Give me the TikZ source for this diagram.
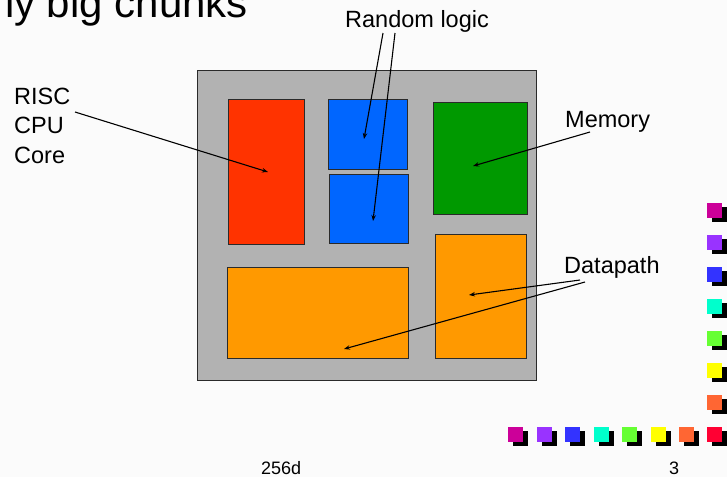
\documentclass[tikz,border=0pt]{standalone}
\usepackage{fontspec}
\setmainfont{Liberation Sans}
\usetikzlibrary{arrows.meta}
\definecolor{pagebg}{HTML}{FBFBFB}
\definecolor{diefill}{HTML}{B2B2B2}
\definecolor{edge}{HTML}{2A2A2A}
\definecolor{cpured}{HTML}{FF3300}
\definecolor{logicblue}{HTML}{0066FF}
\definecolor{memgreen}{HTML}{009900}
\definecolor{dpathorange}{HTML}{FF9900}
\definecolor{sqmagenta}{HTML}{CC0099}
\definecolor{sqpurple}{HTML}{9933FF}
\definecolor{sqblue}{HTML}{3333FF}
\definecolor{sqcyan}{HTML}{00FFCC}
\definecolor{sqgreen}{HTML}{66FF33}
\definecolor{sqyellow}{HTML}{FFFF00}
\definecolor{sqorange}{HTML}{FF6633}
\definecolor{sqred}{HTML}{FF0033}
\tikzset{
  block/.style={draw=edge, line width=1pt, inner sep=0pt, anchor=north west},
  label/.style={inner sep=0pt, anchor=base west, font=\fontsize{23.5}{29.5}\selectfont, align=left},
  pointer/.style={draw=black, line width=1.1pt, -{Stealth[length=6pt,width=4.5pt]}},
  bullet/.style={inner sep=0pt, minimum size=15pt, anchor=north west},
  footer/.style={inner sep=0pt, anchor=base west, font=\fontsize{18}{20}\selectfont},
}
% draws one decorative square with its black drop shadow
\newcommand\shadowsq[3]{%
  \fill[black] (#1+5,#2+4) rectangle ++(15,15);
  \node[bullet, fill=#3] at (#1,#2) {};
}
\begin{document}
\begin{tikzpicture}[x=1pt,y=-1pt]
  \useasboundingbox (0,0) rectangle (727,477);
  \clip (0,0) rectangle (727,477);
  \fill[pagebg] (0,0) rectangle (727,477);

  % slide title, running off the top left edge
  \node[inner sep=0pt, anchor=base east, font=\fontsize{42}{48}\selectfont] (title) at (248,17) {Fairly big chunks};

  % die outline and functional blocks
  \node[block, fill=diefill, minimum width=339pt, minimum height=310pt] (die) at (197,70) {};
  \node[block, fill=cpured, minimum width=76pt, minimum height=145pt] (cpu) at (228,99) {};
  \node[block, fill=logicblue, minimum width=79pt, minimum height=70pt] (logicA) at (328,99) {};
  \node[block, fill=logicblue, minimum width=79pt, minimum height=69pt] (logicB) at (329,174) {};
  \node[block, fill=memgreen, minimum width=94pt, minimum height=112pt] (mem) at (433,102) {};
  \node[block, fill=dpathorange, minimum width=181pt, minimum height=91pt] (dpA) at (227,267) {};
  \node[block, fill=dpathorange, minimum width=91pt, minimum height=124pt] (dpB) at (435,234) {};

  % labels (a multi-line node sits on the baseline of its last line)
  \node[label] (lblcpu) at (14,163) {RISC\\CPU\\Core};
  \node[label] (lbllogic) at (345,27) {Random logic};
  \node[label] (lblmem) at (565,127) {Memory};
  \node[label] (lbldp) at (564,273) {Datapath};

  % pointer start and end points
  \coordinate (cpuS) at (75,112);
  \coordinate (cpuE) at (268,172);
  \coordinate (logS1) at (383,33);
  \coordinate (logE1) at (364,139);
  \coordinate (logS2) at (395,33);
  \coordinate (logE2) at (373,221);
  \coordinate (memS) at (590,132);
  \coordinate (memE) at (473,166);
  \coordinate (dpS1) at (580,280);
  \coordinate (dpE1) at (469,295);
  \coordinate (dpS2) at (585,282);
  \coordinate (dpE2) at (344,349);

  \draw[pointer] (cpuS) -- (cpuE);
  \draw[pointer] (logS1) -- (logE1);
  \draw[pointer] (logS2) -- (logE2);
  \draw[pointer] (memS) -- (memE);
  \draw[pointer] (dpS1) -- (dpE1);
  \draw[pointer] (dpS2) -- (dpE2);

  % decorative squares along the right and bottom edges
  \shadowsq{707}{203}{sqmagenta}
  \shadowsq{707}{235}{sqpurple}
  \shadowsq{707}{267}{sqblue}
  \shadowsq{707}{299}{sqcyan}
  \shadowsq{707}{331}{sqgreen}
  \shadowsq{707}{363}{sqyellow}
  \shadowsq{707}{395}{sqorange}
  \shadowsq{508}{427}{sqmagenta}
  \shadowsq{537}{427}{sqpurple}
  \shadowsq{565}{427}{sqblue}
  \shadowsq{594}{427}{sqcyan}
  \shadowsq{622}{427}{sqgreen}
  \shadowsq{651}{427}{sqyellow}
  \shadowsq{679}{427}{sqorange}
  \shadowsq{707}{427}{sqred}

  % footer
  \node[footer] (course) at (261,474) {256d};
  \node[footer] (page) at (669,474) {3};
\end{tikzpicture}
\end{document}
